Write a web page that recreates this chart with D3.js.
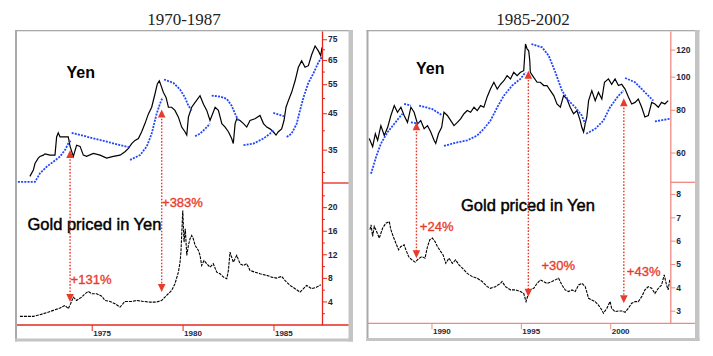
<!DOCTYPE html>
<html><head><meta charset="utf-8">
<script src="https://cdn.jsdelivr.net/npm/d3@7"></script>
<style>body{margin:0;background:#fff}svg{display:block}</style>
</head><body><svg id="c" width="713" height="356"></svg>
<script>
// ---------------- DATA ----------------
// Left panel: 1970-1987
const leftTitle = "1970-1987";
const leftYenYear = [1971.60,1971.79,1971.88,1972.06,1972.15,1972.34,1972.43,1972.71,1972.98,1973.07,1973.16,1973.26,1973.71,1973.81,1973.99,1974.17,1974.36,1974.54,1974.72,1975.09,1975.46,1975.82,1976.19,1976.56,1976.83,1977.02,1977.20,1977.38,1977.57,1977.75,1977.93,1978.12,1978.30,1978.48,1978.61,1978.72,1978.85,1978.94,1979.09,1979.22,1979.40,1979.58,1979.77,1979.95,1980.13,1980.23,1980.32,1980.50,1980.69,1980.96,1981.15,1981.33,1981.51,1981.79,1981.97,1982.16,1982.34,1982.52,1982.70,1982.79,1982.89,1982.98,1983.16,1983.35,1983.53,1983.71,1983.98,1984.26,1984.45,1984.63,1984.81,1984.99,1985.14,1985.27,1985.45,1985.58,1985.69,1985.82,1986.00,1986.19,1986.37,1986.55,1986.74,1986.92,1987.10,1987.29,1987.47,1987.60,1987.67];
const leftYenValue = [29.1,30.4,31.8,33.0,33.4,33.7,34.0,33.7,33.7,38.2,39.3,38.2,38.2,35.8,33.4,36.1,35.8,33.7,33.4,34.1,33.7,33.0,33.4,33.7,34.5,35.3,36.5,37.3,37.8,39.6,41.9,44.8,46.9,51.4,55.1,56.3,53.8,52.0,50.2,46.9,46.9,45.9,43.8,40.9,39.6,38.7,43.8,46.9,48.5,50.8,47.9,45.9,42.8,46.9,45.9,41.9,40.9,39.6,37.8,36.5,41.9,43.3,42.8,41.9,40.9,42.8,43.3,44.3,41.9,40.9,40.4,39.6,38.7,39.6,40.4,42.8,46.9,49.1,52.0,56.3,61.8,64.6,61.8,62.5,67.4,71.6,69.2,66.9,70.9];
const leftSarYear = [
  [1970.94,1971.88,1972.15,1972.52,1972.89,1973.26,1973.53,1973.71,1973.84],
  [1973.90,1977.11],
  [1977.11,1977.66,1978.03,1978.30,1978.57,1978.76,1978.90],
  [1978.98,1979.49,1979.86,1980.13,1980.32,1980.50],
  [1980.69,1980.96,1981.24,1981.51],
  [1981.60,1982.06,1982.43,1982.70,1982.89,1983.07],
  [1983.35,1983.90,1984.45,1984.81,1984.99],
  [1984.99,1985.63],
  [1985.73,1986.00,1986.28,1986.46,1986.65,1986.92,1987.20,1987.47,1987.66]];
const leftSarValue = [
  [28.0,28.0,29.7,31.1,32.2,33.4,34.9,36.5,37.3],
  [39.3,35.5],
  [32.6,33.7,35.8,39.1,44.8,48.1,50.2],
  [56.8,55.5,53.0,50.2,47.4,45.9],
  [38.4,39.1,40.4,41.9],
  [50.8,50.5,49.7,47.4,44.8,42.8],
  [36.1,36.5,37.8,39.1,40.0],
  [45.1,44.0],
  [38.2,39.1,41.9,45.9,50.2,55.5,59.3,63.9,66.3]];
const leftGoldYear = [1971.05,1971.79,1972.15,1972.52,1972.89,1973.26,1973.53,1973.71,1973.84,1973.99,1974.17,1974.45,1974.63,1974.81,1975.00,1975.27,1975.55,1975.73,1976.01,1976.28,1976.56,1976.83,1977.20,1977.47,1977.84,1978.21,1978.57,1978.85,1979.12,1979.40,1979.58,1979.77,1979.86,1979.91,1980.01,1980.08,1980.15,1980.23,1980.32,1980.41,1980.50,1980.59,1980.69,1980.87,1980.96,1981.05,1981.18,1981.33,1981.51,1981.69,1981.88,1982.06,1982.25,1982.43,1982.52,1982.61,1982.70,1982.79,1982.98,1983.16,1983.35,1983.53,1983.71,1983.98,1984.26,1984.63,1984.90,1985.18,1985.45,1985.63,1985.91,1986.19,1986.46,1986.65,1986.83,1987.10,1987.38,1987.60];
const leftGoldValue = [1.46,1.46,1.75,2.09,2.48,2.87,3.33,2.77,3.61,4.73,4.17,4.73,5.31,5.70,5.31,5.31,4.90,4.17,4.00,3.61,3.04,4.00,4.00,4.17,4.00,3.89,3.89,4.17,5.02,5.87,7.00,8.97,10.67,12.37,19.44,14.07,16.34,11.81,13.50,14.64,15.20,14.64,13.50,12.66,11.81,10.11,10.96,10.40,9.82,10.40,8.97,8.70,8.13,7.86,9.26,12.37,11.52,10.67,11.81,10.40,10.11,10.40,9.26,8.97,8.70,8.42,8.13,7.96,8.25,7.57,6.72,6.16,5.58,6.16,6.72,6.16,6.43,6.84];
const leftArrowYear = [1973.81, 1978.85];
const leftArrowYen = [34.9, 46.2];
const leftArrowGold = [3.89, 5.58];
const leftLabelText = ["+131%", "+383%"];
const leftLabelYear = [1973.84, 1978.87];
const leftLabelGold = [7.74, 20.85];
const leftYenTicks = [35,45,55,65,75];
const leftYenMinor = [30,40,50,60,70];
const leftGoldTicks = [4,8,12,16,20];
const leftGoldMinor = [2,6,10,14,18,22];
const leftYearTicks = [1975,1980,1985];

// Right panel: 1985-2002
const rightTitle = "1985-2002";
const rightYenYear = [1986.52,1986.71,1986.86,1986.99,1987.17,1987.36,1987.55,1987.73,1987.92,1988.10,1988.29,1988.47,1988.66,1988.85,1989.03,1989.22,1989.40,1989.59,1989.78,1989.96,1990.15,1990.24,1990.39,1990.57,1990.70,1990.89,1991.08,1991.26,1991.45,1991.63,1991.82,1992.00,1992.19,1992.38,1992.56,1992.75,1992.93,1993.12,1993.30,1993.49,1993.68,1993.86,1994.05,1994.23,1994.42,1994.60,1994.79,1994.98,1995.16,1995.26,1995.35,1995.44,1995.50,1995.53,1995.72,1995.91,1996.09,1996.28,1996.46,1996.65,1996.84,1997.02,1997.21,1997.39,1997.58,1997.76,1997.95,1998.14,1998.32,1998.41,1998.51,1998.60,1998.69,1998.79,1998.97,1999.16,1999.34,1999.53,1999.68,1999.90,2000.08,2000.27,2000.46,2000.64,2000.83,2001.01,2001.20,2001.39,2001.57,2001.76,2001.94,2002.13,2002.32,2002.50,2002.69,2002.87,2003.06,2003.24];
const rightYenValue = [65.9,62.4,68.1,65.1,71.9,67.3,71.1,77.0,82.3,78.7,81.4,77.0,73.5,81.4,78.7,72.8,74.4,70.4,71.9,68.9,65.1,63.8,68.1,71.1,78.7,77.0,74.4,71.9,73.5,75.3,77.9,79.6,78.7,81.4,79.6,82.3,81.4,87.4,92.0,96.3,92.0,95.0,97.3,100.7,98.5,103.0,100.7,103.0,104.1,124.6,120.5,119.0,111.3,103.0,99.5,96.3,96.3,94.2,94.2,91.0,88.0,83.2,81.4,88.0,86.0,81.4,77.9,79.6,74.4,71.1,68.9,72.8,76.2,85.1,91.0,85.1,90.0,86.0,96.3,98.5,95.0,98.5,94.2,95.0,92.0,87.4,83.2,84.1,86.0,81.4,76.2,77.0,84.1,83.2,81.4,84.1,83.2,85.1];
const rightSarYear = [
  [1986.62,1986.90,1987.17,1987.55,1987.92,1988.29,1988.38],
  [1988.47,1988.85],
  [1988.85,1989.31],
  [1989.31,1990.05,1990.61],
  [1990.70,1991.35,1992.00,1992.56,1992.93,1993.30,1993.68,1994.05,1994.51,1994.98,1995.26],
  [1995.59,1996.19,1996.56,1996.93,1997.30,1997.67,1998.04,1998.41,1998.60],
  [1998.66,1999.16,1999.62,1999.99,2000.46,2000.74],
  [2000.83,2001.39,2001.94,2002.41],
  [2002.50,2003.34]];
const rightSarValue = [
  [52.0,58.2,63.7,68.9,72.8,77.0,77.9],
  [83.2,82.3],
  [73.5,73.0],
  [82.3,80.4,77.0],
  [62.7,64.1,65.1,67.3,70.4,74.4,81.4,88.0,94.2,98.5,103.0],
  [124.6,121.8,115.1,103.0,91.0,85.1,81.4,77.0,72.8],
  [68.1,70.4,74.4,81.4,88.0,91.0],
  [99.1,96.3,90.0,85.1],
  [74.0,75.3]];
const rightGoldYear = [1986.56,1986.62,1986.71,1986.80,1986.93,1987.08,1987.27,1987.45,1987.64,1987.73,1987.86,1988.01,1988.16,1988.29,1988.47,1988.57,1988.72,1988.90,1989.09,1989.27,1989.46,1989.64,1989.78,1989.91,1990.05,1990.20,1990.33,1990.52,1990.65,1990.80,1990.98,1991.17,1991.35,1991.54,1991.73,1992.00,1992.28,1992.56,1992.84,1993.12,1993.30,1993.58,1993.86,1993.95,1994.14,1994.42,1994.70,1994.98,1995.16,1995.29,1995.40,1995.53,1995.72,1995.91,1996.09,1996.28,1996.46,1996.74,1996.93,1997.11,1997.30,1997.48,1997.67,1997.86,1998.04,1998.23,1998.42,1998.60,1998.79,1998.97,1999.16,1999.34,1999.53,1999.62,1999.81,1999.99,2000.08,2000.27,2000.46,2000.64,2000.83,2001.01,2001.20,2001.39,2001.57,2001.76,2001.94,2002.13,2002.32,2002.50,2002.69,2002.87,2003.02,2003.15,2003.24,2003.33];
const rightGoldValue = [6.47,6.68,6.18,6.61,6.39,6.11,6.54,6.75,6.82,6.47,6.18,5.89,5.61,5.75,5.82,5.61,5.32,5.18,5.08,5.22,5.32,5.25,5.75,6.04,6.11,5.96,5.75,5.53,5.39,5.03,5.25,5.03,5.18,4.96,4.82,4.60,4.46,4.39,4.25,4.03,3.96,4.03,4.17,4.25,4.03,3.89,3.89,3.82,3.74,3.39,3.67,3.89,3.96,4.17,4.32,4.25,4.17,4.25,4.32,4.39,4.10,3.89,3.82,3.89,3.82,4.10,4.17,4.03,3.53,3.46,3.39,3.24,3.03,2.89,3.10,3.39,3.10,2.96,2.99,2.99,2.93,3.10,3.32,3.39,3.39,3.60,3.89,4.03,3.96,3.74,3.96,4.10,4.53,4.10,3.89,4.32];
const rightArrowYear = [1989.16, 1995.42, 2000.76];
const rightArrowYen = [73.6, 104.1, 86.4];
const rightArrowGold = [5.25, 3.60, 3.32];
const rightLabelText = ["+24%", "+30%", "+43%"];
const rightLabelYear = [1989.35, 1996.15, 2000.93];
const rightLabelGold = [6.61, 4.96, 4.68];
const rightYenTicks = [60,80,100,120];
const rightGoldTicks = [3,4,5,6,7,8];
const rightYearTicks = [1990,1995,2000];

const upperLabel = "Yen";
const lowerLabel = "Gold priced in Yen";

// ---------------- LAYOUT ----------------
const panels = [
  {id:"L", title:leftTitle, fx0:15, fx1:353, fy0:30, fy1:341.5,
   xL:17, xA:322, xR:348.5, yT:31, yS:183, yB:325,
   xDom:[1970.89,1987.67], upDom:[27.8,79.4], loDom:[0,24.1],
   axisColor:"#e5281c",
   yen:[leftYenYear,leftYenValue], sarY:leftSarYear, sarV:leftSarValue, gold:[leftGoldYear,leftGoldValue],
   arrows:[leftArrowYear,leftArrowYen,leftArrowGold], labels:[leftLabelText,leftLabelYear,leftLabelGold],
   upTicks:leftYenTicks, upMinor:leftYenMinor, loTicks:leftGoldTicks, loMinor:leftGoldMinor, years:leftYearTicks,
   yenLbl:[66.5,78.3], goldLbl:[27.5,230]},
  {id:"R", title:rightTitle, fx0:366.5, fx1:699.5, fy0:30, fy1:341,
   xL:368, xA:670.3, xR:695, yT:31, yS:182.3, yB:323.3,
   xDom:[1986.45,2003.36], upDom:[49.1,136], loDom:[2.46,8.5],
   axisColor:"#ef8a82",
   yen:[rightYenYear,rightYenValue], sarY:rightSarYear, sarV:rightSarValue, gold:[rightGoldYear,rightGoldValue],
   arrows:[rightArrowYear,rightArrowYen,rightArrowGold], labels:[rightLabelText,rightLabelYear,rightLabelGold],
   upTicks:rightYenTicks, upMinor:[], loTicks:rightGoldTicks, loMinor:[], years:rightYearTicks,
   yenLbl:[416,74], goldLbl:[461,211]}
];

const svg = d3.select("#c");
svg.append("rect").attr("width",713).attr("height",356).attr("fill","#fff");
const RED = "#e93b2c", BLUE = "#2146ff", TICKTXT = "#1e2640";

panels.forEach(p => {
  const g = svg.append("g");
  // title
  g.append("text").attr("x",(p.fx0+p.fx1)/2).attr("y",25).attr("text-anchor","middle")
    .style("font-family","'Liberation Serif','Times New Roman',serif").style("font-size","17px").attr("fill","#222")
    .text(p.title);
  // frame
  g.append("rect").attr("x",p.fx0).attr("y",p.fy0).attr("width",p.fx1-p.fx0).attr("height",p.fy1-p.fy0).attr("fill","#fff");
  g.append("rect").attr("x",p.fx0).attr("y",p.fy0).attr("width",2).attr("height",p.fy1-p.fy0).attr("fill","#a9a9a9");
  g.append("rect").attr("x",p.fx0).attr("y",p.fy0).attr("width",p.fx1-p.fx0).attr("height",1.3).attr("fill","#a9a9a9");
  g.append("rect").attr("x",p.fx1-4.5).attr("y",p.fy0).attr("width",4.5).attr("height",p.fy1-p.fy0).attr("fill","#c4c4c4");
  g.append("rect").attr("x",p.fx0).attr("y",p.fy1-3).attr("width",p.fx1-p.fx0).attr("height",3).attr("fill","#c4c4c4");

  const x = d3.scaleLinear().domain(p.xDom).range([p.xL,p.xA]);
  const yU = d3.scaleLog().domain(p.upDom).range([p.yS,p.yT]);
  const yL = d3.scaleLinear().domain(p.loDom).range([p.yB,p.yS]);

  const defs = svg.append("defs");
  defs.append("clipPath").attr("id","cu"+p.id).append("rect")
    .attr("x",p.xL).attr("y",p.yT).attr("width",p.xA-p.xL).attr("height",p.yS-p.yT);
  defs.append("clipPath").attr("id","cl"+p.id).append("rect")
    .attr("x",p.xL).attr("y",p.yS).attr("width",p.xA-p.xL).attr("height",p.yB-p.yS);

  // text labels
  g.append("text").attr("x",p.yenLbl[0]).attr("y",p.yenLbl[1])
    .style("font-family","'Liberation Sans',Arial,sans-serif").style("font-size","16px").style("font-weight","bold")
    .attr("fill","#000").text(upperLabel);
  g.append("text").attr("x",p.goldLbl[0]).attr("y",p.goldLbl[1])
    .style("font-family","'Liberation Sans',Arial,sans-serif").style("font-size","16.5px")
    .attr("fill","#000").attr("stroke","#000").attr("stroke-width",0.45).text(lowerLabel);

  // Yen series
  const lineU = d3.line().x(d=>x(d[0])).y(d=>yU(d[1]));
  const lineL = d3.line().x(d=>x(d[0])).y(d=>yL(d[1]));
  const up = g.append("g").attr("clip-path",`url(#cu${p.id})`);
  up.append("path").datum(d3.zip(p.yen[0],p.yen[1])).attr("d",lineU)
    .attr("fill","none").attr("stroke","#000").attr("stroke-width",1.2).attr("stroke-linejoin","miter");
  p.sarY.forEach((ys,i) => {
    up.append("path").datum(d3.zip(ys,p.sarV[i])).attr("d",lineU)
      .attr("fill","none").attr("stroke",BLUE).attr("stroke-width",1.8).attr("stroke-dasharray","2 1.2");
  });
  // Gold series
  const lo = g.append("g").attr("clip-path",`url(#cl${p.id})`);
  lo.append("path").datum(d3.zip(p.gold[0],p.gold[1])).attr("d",lineL)
    .attr("fill","none").attr("stroke","#000").attr("stroke-width",1.1).attr("stroke-dasharray","3 1");

  // Y axes
  const styleAxis = (sel, col) => {
    sel.selectAll(".domain").attr("stroke",col).attr("stroke-width",1.3);
    sel.selectAll(".tick line").attr("stroke",col).attr("stroke-width",1);
    sel.selectAll(".tick text").attr("fill",TICKTXT)
      .style("font-family","'Liberation Sans',Arial,sans-serif").style("font-size","8.5px").style("font-weight","bold");
  };
  const axU = g.append("g").attr("transform",`translate(${p.xA},0)`)
    .call(d3.axisRight(yU).tickValues(p.upTicks).tickFormat(d3.format("d")).tickSize(5).tickSizeOuter(0).tickPadding(1));
  styleAxis(axU, p.axisColor);
  const axUm = g.append("g").attr("transform",`translate(${p.xA},0)`)
    .call(d3.axisRight(yU).tickValues(p.upMinor).tickFormat("").tickSize(3).tickSizeOuter(0));
  axUm.select(".domain").remove(); styleAxis(axUm, p.axisColor);
  const axL = g.append("g").attr("transform",`translate(${p.xA},0)`)
    .call(d3.axisRight(yL).tickValues(p.loTicks).tickFormat(d3.format("d")).tickSize(5).tickSizeOuter(0).tickPadding(1));
  styleAxis(axL, p.axisColor);
  const axLm = g.append("g").attr("transform",`translate(${p.xA},0)`)
    .call(d3.axisRight(yL).tickValues(p.loMinor).tickFormat("").tickSize(3).tickSizeOuter(0));
  axLm.select(".domain").remove(); styleAxis(axLm, p.axisColor);
  // separator to the right of axis
  g.append("line").attr("x1",p.xA).attr("x2",p.xR).attr("y1",p.yS).attr("y2",p.yS)
    .attr("stroke",p.axisColor).attr("stroke-width",1.3);
  // X axis
  const axX = g.append("g").attr("transform",`translate(0,${p.yB})`)
    .call(d3.axisBottom(x).tickValues(p.years).tickFormat(d3.format("d")).tickSize(6).tickSizeOuter(0));
  axX.select(".domain").remove();
  styleAxis(axX, p.axisColor);
  axX.selectAll(".tick text").attr("text-anchor","start").attr("x",1).attr("y",5).style("font-size","8px");
  g.append("line").attr("x1",p.xL).attr("x2",p.xR).attr("y1",p.yB).attr("y2",p.yB)
    .attr("stroke",p.axisColor).attr("stroke-width",1.3);

  // Arrows
  const [ay, aU, aL] = p.arrows;
  ay.forEach((yr,i) => {
    const ax = x(yr), t = yU(aU[i]), b = yL(aL[i]);
    g.append("line").attr("x1",ax).attr("x2",ax).attr("y1",t+6).attr("y2",b-6)
      .attr("stroke",RED).attr("stroke-width",1.4).attr("stroke-dasharray","1.6 1.6");
    g.append("path").attr("d",`M${ax},${t}L${ax-3.8},${t+8}L${ax+3.8},${t+8}Z`).attr("fill",RED);
    g.append("path").attr("d",`M${ax},${b}L${ax-3.8},${b-8}L${ax+3.8},${b-8}Z`).attr("fill",RED);
  });
  const [lt, lyr, lv] = p.labels;
  lt.forEach((t,i) => {
    g.append("text").attr("x",x(lyr[i])).attr("y",yL(lv[i])).attr("dy","0.36em")
      .style("font-family","'Liberation Sans',Arial,sans-serif").style("font-size","13px")
      .attr("fill",RED).attr("stroke",RED).attr("stroke-width",0.35).text(t);
  });
});
</script></body></html>
